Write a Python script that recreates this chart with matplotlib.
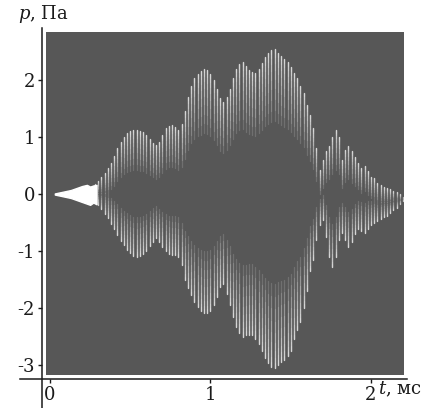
import numpy as np
import matplotlib
matplotlib.use("Agg")
import matplotlib.pyplot as plt
from matplotlib.collections import LineCollection

plt.rcParams['font.family'] = ['DejaVu Serif']
plt.rcParams['mathtext.fontset'] = 'dejavuserif'
plt.rcParams['axes.unicode_minus'] = False

# ---- data ----
y_ticks = [-3, -2, -1, 0, 1, 2]
x_ticks = [0, 1, 2]
x_label = "$t$, мс"
y_label = "$p$, Па"

# initial low-amplitude blob
blob_t = [0.03, 0.08, 0.13, 0.17, 0.20, 0.23, 0.25, 0.27, 0.29]
blob_hi = [0.01, 0.04, 0.07, 0.11, 0.14, 0.16, 0.13, 0.15, 0.16]
blob_lo = [-0.01, -0.04, -0.07, -0.11, -0.14, -0.17, -0.19, -0.15, -0.18]

# oscillation peaks (one streak per cycle)
streak_t = [0.28, 0.30, 0.32, 0.34, 0.36, 0.38, 0.40, 0.42, 0.44, 0.46,
            0.48, 0.50, 0.52, 0.54, 0.56, 0.58, 0.60, 0.62, 0.64, 0.66,
            0.68, 0.70, 0.72, 0.74, 0.76, 0.78, 0.80, 0.82, 0.84, 0.86,
            0.88, 0.90, 0.92, 0.94, 0.96, 0.98, 1.00, 1.02, 1.04, 1.06,
            1.08, 1.10, 1.12, 1.14, 1.16, 1.18, 1.20, 1.22, 1.24, 1.26,
            1.28, 1.30, 1.32, 1.34, 1.36, 1.38, 1.40, 1.42, 1.44, 1.46,
            1.48, 1.50, 1.52, 1.54, 1.56, 1.58, 1.60, 1.62, 1.64, 1.66,
            1.68, 1.70, 1.72, 1.74, 1.76, 1.78, 1.80, 1.82, 1.84, 1.86,
            1.88, 1.90, 1.92, 1.94, 1.96, 1.98, 2.00, 2.02, 2.04, 2.06,
            2.08, 2.10, 2.12, 2.14, 2.16, 2.18, 2.20]
upper_peak = [0.18, 0.23, 0.30, 0.37, 0.45, 0.55, 0.66, 0.80, 0.92, 1.00,
              1.07, 1.10, 1.13, 1.12, 1.10, 1.08, 1.04, 0.97, 0.90, 0.86,
              0.92, 1.03, 1.16, 1.20, 1.21, 1.17, 1.12, 1.22, 1.45, 1.70,
              1.90, 2.03, 2.10, 2.15, 2.20, 2.18, 2.10, 2.00, 1.85, 1.68,
              1.62, 1.70, 1.85, 2.03, 2.20, 2.28, 2.31, 2.24, 2.18, 2.14,
              2.12, 2.20, 2.30, 2.40, 2.47, 2.53, 2.55, 2.48, 2.42, 2.37,
              2.31, 2.22, 2.12, 2.03, 1.90, 1.78, 1.56, 1.38, 1.15, 0.80,
              0.42, 0.60, 0.76, 0.85, 1.00, 1.12, 1.00, 0.60, 0.78, 0.85,
              0.75, 0.65, 0.55, 0.45, 0.50, 0.40, 0.30, 0.28, 0.20, 0.15,
              0.12, 0.10, 0.08, 0.06, 0.04, 0.00, -0.05]
lower_peak = [-0.15, -0.20, -0.27, -0.35, -0.42, -0.52, -0.62, -0.72, -0.82, -0.90,
              -0.98, -1.04, -1.08, -1.10, -1.08, -1.05, -1.00, -0.92, -0.84, -0.78,
              -0.85, -0.93, -1.00, -1.05, -1.07, -1.07, -1.10, -1.25, -1.50, -1.65,
              -1.78, -1.90, -1.99, -2.05, -2.09, -2.09, -2.06, -1.95, -1.80, -1.63,
              -1.58, -1.75, -1.95, -2.16, -2.33, -2.43, -2.50, -2.48, -2.47, -2.47,
              -2.55, -2.63, -2.75, -2.88, -2.97, -3.03, -3.05, -3.00, -2.95, -2.92,
              -2.85, -2.75, -2.55, -2.38, -2.25, -2.00, -1.70, -1.35, -1.15, -0.80,
              -0.55, -0.45, -0.75, -1.10, -1.28, -1.10, -0.80, -0.68, -0.80, -0.93,
              -0.85, -0.70, -0.62, -0.65, -0.68, -0.62, -0.55, -0.50, -0.48, -0.44,
              -0.40, -0.38, -0.33, -0.28, -0.24, -0.18, -0.12]

# ---- figure ----
W, H = 428, 408
fig = plt.figure(figsize=(W / 100, H / 100), dpi=100)
fig.patch.set_facecolor('white')
ax = fig.add_axes([46 / W, 33 / H, 358 / W, 343 / H])
ax.set_facecolor('#575757')
ax.set_xlim(-0.025, 2.206)
ax.set_ylim(-3.175, 2.842)

t = np.array(streak_t)
u = np.array(upper_peak)
l = np.array(lower_peak)

# bright streaks near the peaks, brighter towards the tip
fracs = [1.0, 0.85, 0.7, 0.55, 0.42, 0.3, 0.2, 0.12, 0.06]
for f in fracs:
    segs = []
    for ti, ui, li in zip(t, u, l):
        span = ui - li
        Lu = min(span * 0.5, 0.25 + 0.4 * abs(ui))
        Ll = min(span * 0.5, 0.25 + 0.4 * abs(li))
        segs.append([(ti, ui - f * Lu), (ti, ui)])
        segs.append([(ti, li), (ti, li + f * Ll)])
    ax.add_collection(LineCollection(segs, colors='white', linewidths=0.95,
                                     alpha=0.15, capstyle='round'))

ax.fill_between(blob_t, blob_lo, blob_hi, color='white', lw=1.0, edgecolor='white')

# ---- axes styling ----
for s in ['top', 'right']:
    ax.spines[s].set_visible(False)
ax.spines['left'].set_position(('outward', 3))
ax.spines['bottom'].set_position(('outward', 3))
ax.spines['left'].set_bounds(-3.75, 2.91)
ax.spines['bottom'].set_bounds(-0.19, 2.225)
for s in ['left', 'bottom']:
    ax.spines[s].set_color('#1a1a1a')
    ax.spines[s].set_linewidth(1.1)

ax.set_yticks(y_ticks)
ax.set_xticks(x_ticks)
ax.set_yticklabels([str(v) for v in y_ticks])
ax.set_xticklabels([str(v) for v in x_ticks])
ax.tick_params(direction='out', length=3, width=1.0, color='#1a1a1a',
               labelsize=13, labelcolor='#1a1a1a', pad=2)

fig.text(18 / W, 1 - 14 / H, y_label, fontsize=13, color='#1a1a1a',
         ha='left', va='center')
fig.text(378 / W, 1 - 389 / H, x_label, fontsize=13, color='#1a1a1a',
         ha='left', va='center')

fig.savefig('out.png', dpi=100, facecolor='white')
